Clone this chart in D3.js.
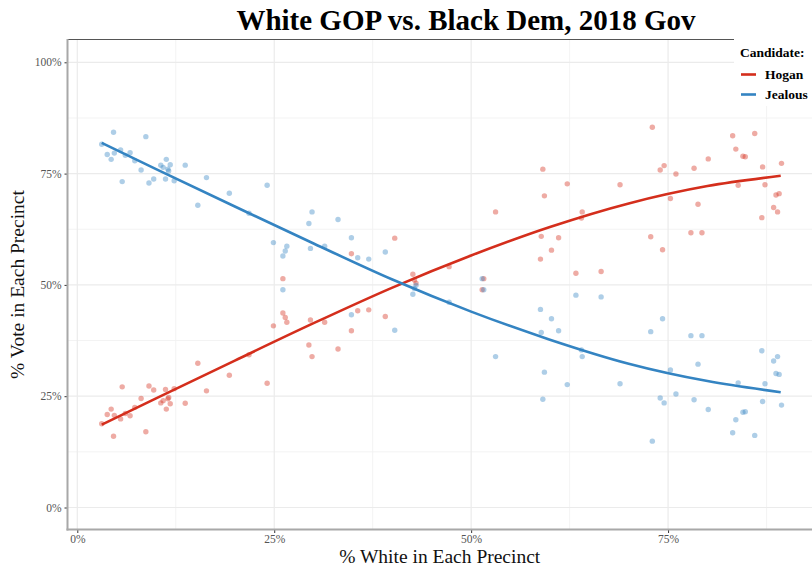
<!DOCTYPE html>
<html>
<head>
<meta charset="utf-8">
<script src="https://cdn.jsdelivr.net/npm/d3@7"></script>
<style>
  html, body { margin: 0; padding: 0; background: #fff; }
  svg { display: block; }
  svg text { font-family: "Liberation Serif", "Times New Roman", serif; }
</style>
</head>
<body>
<svg id="chart" width="812" height="569"></svg>
<script>
// Share of white residents in each precinct
const whiteShare = [
  0.031, 0.038, 0.043, 0.046, 0.047, 0.055, 0.057, 0.061, 0.067, 0.073,
  0.081, 0.087, 0.091, 0.097, 0.106, 0.109, 0.112, 0.113, 0.115, 0.116,
  0.118, 0.123, 0.137, 0.153, 0.164, 0.193, 0.218, 0.241, 0.249, 0.261,
  0.261, 0.264, 0.266, 0.294, 0.296, 0.298, 0.314, 0.331, 0.348, 0.348,
  0.356, 0.370, 0.391, 0.403, 0.426, 0.428, 0.430, 0.472, 0.514, 0.516,
  0.531, 0.588, 0.589, 0.591, 0.593, 0.602, 0.611, 0.622, 0.633, 0.640,
  0.641, 0.665, 0.689, 0.728, 0.730, 0.740, 0.743, 0.745, 0.753, 0.760,
  0.779, 0.783, 0.788, 0.793, 0.801, 0.832, 0.836, 0.839, 0.845, 0.848,
  0.860, 0.869, 0.870, 0.873, 0.884, 0.887, 0.889, 0.891, 0.894
];
// Hogan vote share per precinct
const hoganShare = [
  0.188, 0.209, 0.221, 0.160, 0.207, 0.199, 0.271, 0.211, 0.206, 0.225,
  0.245, 0.170, 0.273, 0.264, 0.235, 0.240, 0.265, 0.221, 0.244, 0.247,
  0.233, 0.267, 0.234, 0.324, 0.262, 0.297, 0.343, 0.279, 0.408, 0.514,
  0.437, 0.427, 0.416, 0.365, 0.421, 0.339, 0.416, 0.356, 0.570, 0.397,
  0.442, 0.444, 0.429, 0.605, 0.524, 0.511, 0.504, 0.541, 0.489, 0.514,
  0.664, 0.558, 0.609, 0.760, 0.700, 0.578, 0.606, 0.727, 0.526, 0.650,
  0.664, 0.530, 0.725, 0.608, 0.854, 0.758, 0.579, 0.768, 0.694, 0.749,
  0.617, 0.762, 0.681, 0.617, 0.783, 0.835, 0.805, 0.724, 0.789, 0.788,
  0.840, 0.651, 0.765, 0.725, 0.674, 0.702, 0.664, 0.705, 0.773
];
// Jealous vote share per precinct
const jealousShare = [
  0.816, 0.793, 0.782, 0.843, 0.796, 0.803, 0.732, 0.791, 0.797, 0.779,
  0.758, 0.833, 0.729, 0.738, 0.769, 0.764, 0.738, 0.782, 0.760, 0.756,
  0.770, 0.734, 0.769, 0.679, 0.741, 0.706, 0.661, 0.724, 0.595, 0.489,
  0.565, 0.576, 0.587, 0.638, 0.582, 0.664, 0.587, 0.647, 0.433, 0.606,
  0.561, 0.558, 0.574, 0.398, 0.479, 0.492, 0.499, 0.461, 0.514, 0.489,
  0.339, 0.445, 0.393, 0.243, 0.304, 0.424, 0.397, 0.276, 0.477, 0.354,
  0.339, 0.473, 0.278, 0.395, 0.149, 0.246, 0.424, 0.235, 0.309, 0.255,
  0.386, 0.242, 0.322, 0.386, 0.220, 0.168, 0.197, 0.280, 0.214, 0.215,
  0.162, 0.352, 0.238, 0.278, 0.329, 0.301, 0.339, 0.299, 0.230
];
// Smoothed trend for each candidate
const fitX       = [0.031, 0.100, 0.200, 0.300, 0.400, 0.500, 0.600, 0.700, 0.800, 0.893];
const hoganFit   = [0.186, 0.245, 0.330, 0.414, 0.494, 0.566, 0.630, 0.683, 0.722, 0.745];
const jealousFit = [0.819, 0.760, 0.676, 0.593, 0.512, 0.440, 0.377, 0.323, 0.284, 0.259];

const candidates = ["Hogan", "Jealous"];
const candidateColors = ["#D42E1C", "#3484C2"];
const xTicks = [0, 0.25, 0.5, 0.75];
const yTicks = [0, 0.25, 0.5, 0.75, 1];

const FONT = "Liberation Serif, Times New Roman, serif";
const svg = d3.select("#chart");
const panel = { left: 67.5, right: 812, top: 39.5, bottom: 529.5 };

const x = d3.scaleLinear().domain([0, 1]).range([77.3, 865]);
const y = d3.scaleLinear().domain([0, 1]).range([507.5, 62.3]);
const color = d3.scaleOrdinal().domain(candidates).range(candidateColors);
const pct = d3.format(".0%");

// grid
const grid = svg.append("g");
const xMinor = xTicks.map(t => t + 0.125);
const yMinor = yTicks.slice(0, -1).map(t => t + 0.125);
grid.selectAll(".xminor").data(xMinor).join("line")
  .attr("x1", d => x(d)).attr("x2", d => x(d))
  .attr("y1", panel.top).attr("y2", panel.bottom)
  .attr("stroke", "#f2f2f2").attr("stroke-width", 0.9);
grid.selectAll(".yminor").data(yMinor).join("line")
  .attr("x1", panel.left).attr("x2", panel.right)
  .attr("y1", d => y(d)).attr("y2", d => y(d))
  .attr("stroke", "#f2f2f2").attr("stroke-width", 0.9);
grid.selectAll(".xmajor").data(xTicks).join("line")
  .attr("x1", d => x(d)).attr("x2", d => x(d))
  .attr("y1", panel.top).attr("y2", panel.bottom)
  .attr("stroke", "#ebebeb").attr("stroke-width", 1.2);
grid.selectAll(".ymajor").data(yTicks).join("line")
  .attr("x1", panel.left).attr("x2", panel.right)
  .attr("y1", d => y(d)).attr("y2", d => y(d))
  .attr("stroke", "#ebebeb").attr("stroke-width", 1.2);

// points
const precincts = whiteShare.map((w, i) => ({ w, Hogan: hoganShare[i], Jealous: jealousShare[i] }));
const pts = svg.append("g");
candidates.forEach(c => {
  pts.selectAll(null).data(precincts).join("circle")
    .attr("cx", d => x(d.w)).attr("cy", d => y(d[c]))
    .attr("r", 2.7)
    .attr("fill", color(c)).attr("fill-opacity", 0.4);
});

// trend lines
const fits = { Hogan: hoganFit, Jealous: jealousFit };
const line = d3.line().x(d => x(d[0])).y(d => y(d[1])).curve(d3.curveMonotoneX);
candidates.forEach(c => {
  svg.append("path")
    .datum(fitX.map((v, i) => [v, fits[c][i]]))
    .attr("d", line)
    .attr("fill", "none")
    .attr("stroke", color(c))
    .attr("stroke-width", 2.6);
});

// panel border and axes
svg.append("line").attr("x1", panel.left).attr("x2", panel.right)
  .attr("y1", panel.top).attr("y2", panel.top)
  .attr("stroke", "#555").attr("stroke-width", 1);

const yAxis = svg.append("g").attr("transform", `translate(${panel.left},0)`)
  .call(d3.axisLeft(y).tickValues(yTicks).tickFormat(pct).tickSize(3).tickPadding(3));
const xAxis = svg.append("g").attr("transform", `translate(0,${panel.bottom})`)
  .call(d3.axisBottom(x).tickValues(xTicks).tickFormat(pct).tickSize(3.5).tickPadding(2));
[xAxis, yAxis].forEach(a => {
  a.attr("font-family", FONT);
  a.select(".domain").remove();
  a.selectAll(".tick line").attr("stroke", "#333").attr("stroke-width", 1);
  a.selectAll(".tick text")
    .attr("fill", "#555").attr("font-size", 11.5)
    .attr("font-family", FONT);
});
svg.append("line").attr("x1", panel.left).attr("x2", panel.left)
  .attr("y1", panel.top - 0.5).attr("y2", panel.bottom + 1)
  .attr("stroke", "#a8a8a8").attr("stroke-width", 2);
svg.append("line").attr("x1", panel.left - 1).attr("x2", panel.right)
  .attr("y1", panel.bottom).attr("y2", panel.bottom)
  .attr("stroke", "#a8a8a8").attr("stroke-width", 2);

// axis titles
svg.append("text")
  .attr("x", (panel.left + panel.right) / 2).attr("y", 563)
  .attr("text-anchor", "middle").attr("font-size", 19.5).attr("fill", "#111")
  .attr("font-family", FONT)
  .text("% White in Each Precinct");
svg.append("text")
  .attr("transform", `translate(24,${(panel.top + panel.bottom) / 2}) rotate(-90)`)
  .attr("text-anchor", "middle").attr("font-size", 19.5).attr("fill", "#111")
  .attr("font-family", FONT)
  .text("% Vote in Each Precinct");

// title
svg.append("text")
  .attr("x", 466).attr("y", 30)
  .attr("text-anchor", "middle").attr("font-size", 29).attr("font-weight", "bold")
  .attr("fill", "#000").attr("font-family", FONT)
  .text("White GOP vs. Black Dem, 2018 Gov");

// legend
const legend = svg.append("g").attr("font-family", FONT);
legend.append("rect").attr("x", 734).attr("y", 34).attr("width", 80).attr("height", 72)
  .attr("fill", "#fff");
legend.append("text").attr("x", 740).attr("y", 57)
  .attr("font-size", 13.5).attr("font-weight", "bold").text("Candidate:");
candidates.forEach((c, i) => {
  const cy = 74.5 + i * 20;
  legend.append("line").attr("x1", 741).attr("x2", 756)
    .attr("y1", cy).attr("y2", cy)
    .attr("stroke", color(c)).attr("stroke-width", 2.6);
  legend.append("text").attr("x", 765).attr("y", cy + 4.5)
    .attr("font-size", 13.5).attr("font-weight", "bold").text(c);
});
</script>
</body>
</html>
